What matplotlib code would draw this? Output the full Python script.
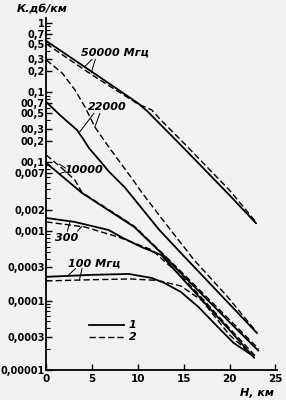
import matplotlib
matplotlib.use("Agg")
import matplotlib.pyplot as plt
from matplotlib.ticker import FixedLocator, FixedFormatter, LogLocator, NullFormatter

plt.rcParams['font.family'] = ['Liberation Sans Narrow', 'DejaVu Sans']

# ---- data (height, km ; attenuation, dB/km) ----
h50_solid = [0, 5, 10, 11, 15, 20, 22.9]
k50_solid = [0.55, 0.197, 0.070, 0.054, 0.0158, 0.0033, 0.0013]
h50_dash = [0, 5, 10, 11.5, 12.5, 15, 20, 22.8]
k50_dash = [0.50, 0.178, 0.068, 0.056, 0.040, 0.0187, 0.0039, 0.0014]

h22_solid = [0, 1.5, 3.35, 4.1, 4.65, 6.06, 6.8, 8.55, 10.39, 12.34, 15, 20, 23.0]
k22_solid = [0.0727, 0.047, 0.0287, 0.0206, 0.0158, 0.0096, 0.0073, 0.0043, 0.00216,
             0.00104, 0.00044, 0.000089, 0.000034]
h22_dash = [0, 1.73, 3.14, 4.22, 5.3, 6.82, 9.31, 10.39, 12.55, 16.13, 19.8, 23.05]
k22_dash = [0.293, 0.19, 0.108, 0.0616, 0.0317, 0.0163, 0.00584, 0.00367, 0.00155,
            0.000385, 0.000113, 0.000034]

h10_solid = [0, 3.9, 6.8, 9.6, 12.55, 15, 20, 23.15]
k10_solid = [0.0096, 0.00355, 0.0020, 0.00115, 0.000485, 0.000226, 0.000049, 0.000019]
h10_dash = [0, 1.7, 3.1, 3.9, 6.8, 9.6, 12.55, 15, 20, 23.2]
k10_dash = [0.0125, 0.0081, 0.0055, 0.0036, 0.00205, 0.00118, 0.0005, 0.00024,
            0.000053, 0.000020]

h300_solid = [0, 3.1, 6.8, 8.2, 10.4, 12.55, 15, 20, 22.7]
k300_solid = [0.00155, 0.00136, 0.00104, 0.00082, 0.00059, 0.000454, 0.000198,
              0.0000377, 0.000015]
h300_dash = [0, 4.2, 7.9, 11.5, 15, 20, 22.8]
k300_dash = [0.00136, 0.00115, 0.00082, 0.00054, 0.00021, 0.00004, 0.000016]

h100_solid = [0, 5, 9, 11.5, 12.9, 14.7, 16.6, 18.7, 20.45, 22.6]
k100_solid = [0.00022, 0.000235, 0.000242, 0.000212, 0.000179, 0.000133, 0.000081,
              0.000042, 0.0000245, 0.0000159]
h100_dash = [0, 5, 9.3, 12.2, 14.7, 17, 20, 22.6]
k100_dash = [0.000192, 0.0002, 0.000205, 0.000195, 0.000162, 0.0001, 0.000032, 0.000016]

ytick_vals = [1, 0.7, 0.5, 0.3, 0.2, 0.1, 0.07, 0.05, 0.03, 0.02, 0.01, 0.007,
              0.002, 0.001, 0.0003, 0.0001, 0.00003, 0.00001]
ytick_labels = ["1", "0,7", "0,5", "0,3", "0,2", "0,1", "00,7", "00,5", "00,3", "00,2",
                "00,1", "0,007", "0,002", "0,001", "0,0003", "0,0001", "0,0003", "0,00001"]
xtick_vals = [0, 5, 10, 15, 20, 25]
legend_labels = ["1", "2"]

bg = "#f1f1f1"
fig = plt.figure(figsize=(2.86, 4.0), dpi=100, facecolor=bg)
ax = fig.add_axes([0.162, 0.075, 0.807, 0.88], facecolor=bg)

ax.set_yscale("log")
ax.set_xlim(0, 25.2)
ax.set_ylim(1e-5, 1.18)

lw_s, lw_d = 1.3, 1.0
dash = (0, (4.5, 2.2))
pairs = [(h50_solid, k50_solid, h50_dash, k50_dash),
         (h22_solid, k22_solid, h22_dash, k22_dash),
         (h10_solid, k10_solid, h10_dash, k10_dash),
         (h300_solid, k300_solid, h300_dash, k300_dash),
         (h100_solid, k100_solid, h100_dash, k100_dash)]
for hs, ks, hd, kd in pairs:
    ax.plot(hs, ks, color="k", lw=lw_s, solid_capstyle="round")
    ax.plot(hd, kd, color="k", lw=lw_d, linestyle=dash)

for s in ["top", "right"]:
    ax.spines[s].set_visible(False)
for s in ["left", "bottom"]:
    ax.spines[s].set_linewidth(1.3)

ax.yaxis.set_major_locator(FixedLocator(ytick_vals))
ax.yaxis.set_major_formatter(FixedFormatter(ytick_labels))
ax.yaxis.set_minor_locator(LogLocator(base=10, subs=range(1, 10), numticks=20))
ax.yaxis.set_minor_formatter(NullFormatter())
ax.tick_params(axis="y", which="major", direction="in", length=4, width=1.0,
               labelsize=7.0, pad=1.0)
ax.tick_params(axis="y", which="minor", direction="in", length=3, width=0.8)
ax.set_xticks(xtick_vals)
ax.tick_params(axis="x", direction="in", length=4, width=1.0, labelsize=7.5, pad=3)
for lab in ax.get_yticklabels() + ax.get_xticklabels():
    lab.set_fontweight("bold")

ital = dict(style="italic", fontsize=8, fontweight="bold")
fig.text(0.06, 0.975, "К.дб/км", ha="left", va="center", **ital)
fig.text(0.9, 0.018, "H, км", ha="center", va="center", **ital)

lk = dict(arrowprops=dict(arrowstyle="-", lw=0.7, color="k", shrinkA=0, shrinkB=0))
# curve labels with leader lines
ax.text(7.5, 0.37, "50000 Мгц", ha="center", va="center", **ital)
ax.annotate("", xy=(4.2, 0.235), xytext=(5.0, 0.30), **lk)
ax.annotate("", xy=(4.9, 0.19), xytext=(5.35, 0.30), **lk)

ax.text(6.7, 0.062, "22000", ha="center", va="center", **ital)
ax.annotate("", xy=(3.6, 0.0265), xytext=(5.2, 0.050), **lk)
ax.annotate("", xy=(5.3, 0.0317), xytext=(5.85, 0.050), **lk)

ax.text(4.1, 0.0076, "10000", ha="center", va="center", **ital)
ax.annotate("", xy=(1.4, 0.0093), xytext=(2.1, 0.0081), **lk)
ax.annotate("", xy=(1.5, 0.0068), xytext=(2.1, 0.0072), **lk)

ax.text(2.2, 0.00080, "300", ha="center", va="center", **ital)
ax.annotate("", xy=(2.6, 0.00142), xytext=(2.3, 0.00100), **lk)
ax.annotate("", xy=(3.9, 0.00118), xytext=(3.4, 0.00100), **lk)

ax.text(5.2, 0.00034, "100 Мгц", ha="center", va="center", **ital)
ax.annotate("", xy=(2.3, 0.000226), xytext=(3.2, 0.00029), **lk)
ax.annotate("", xy=(3.6, 0.000196), xytext=(3.9, 0.00029), **lk)

# legend
lx = [4.7, 8.5]
ax.plot(lx, [4.4e-5, 4.4e-5], color="k", lw=lw_s)
ax.plot(lx, [3.0e-5, 3.0e-5], color="k", lw=lw_d, linestyle=dash)
ax.text(9.0, 4.4e-5, legend_labels[0], va="center", ha="left", **ital)
ax.text(9.0, 3.0e-5, legend_labels[1], va="center", ha="left", **ital)

fig.savefig("out.png", dpi=100, facecolor=bg)
